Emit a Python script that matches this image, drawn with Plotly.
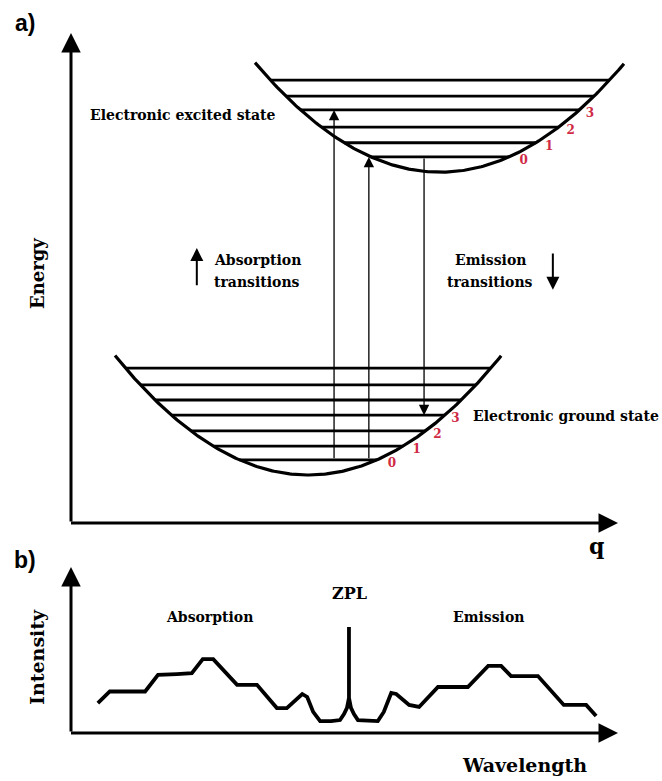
import numpy as np
import plotly.graph_objects as go

# ---------------- data ----------------
# Panel a: potential-energy curves (configuration coordinate q, energy E)
excited_min_q, excited_min_E = 7.42, 7.16
ground_min_q, ground_min_E = 4.77, 0.98
curvature = 0.1615
excited_q_span = [3.70, 11.12]
ground_q_span = [0.885, 8.65]

# vibrational level energies
excited_levels = [7.47, 7.76, 8.08, 8.43, 8.71, 9.04]
ground_levels = [1.29, 1.57, 1.88, 2.20, 2.51, 2.82, 3.16]
level_numbers = ["0", "1", "2", "3"]

# vertical transitions: (q, start energy, end energy)
absorption_q = [5.29, 5.99]
absorption_from = [1.29, 1.29]
absorption_to = [8.43, 7.47]
emission_q = [7.10]
emission_from = [7.47]
emission_to = [2.20]

# Panel b: spectrum (wavelength, intensity)
wavelength = [0.54, 0.78, 1.49, 1.75, 2.13, 2.43, 2.65, 2.86, 3.34, 3.74, 4.14,
              4.34, 4.65, 4.75, 4.87, 5.01, 5.23, 5.41, 5.49, 5.55, 5.59, 5.59,
              5.59, 5.63, 5.69, 5.77, 6.17, 6.29, 6.44, 6.54, 6.80, 7.00, 7.38,
              7.98, 8.39, 8.65, 8.85, 9.39, 9.91, 10.36, 10.56]
intensity = [0.18, 0.25, 0.25, 0.35, 0.355, 0.36, 0.445, 0.445, 0.29, 0.29, 0.15,
             0.15, 0.235, 0.217, 0.127, 0.072, 0.072, 0.078, 0.114, 0.151, 0.211, 0.639,
             0.211, 0.151, 0.114, 0.078, 0.072, 0.127, 0.241, 0.235, 0.169, 0.157, 0.277,
             0.277, 0.404, 0.404, 0.343, 0.343, 0.169, 0.169, 0.102]

# ---------------- layout geometry ----------------
W, H = 662, 781
PX_Q = 49.727          # pixels per q / wavelength unit
PX_E = 49.0            # pixels per energy unit
PX_I = 166.0           # pixels per intensity unit
ORIGIN_X = 71
A_ORIGIN_Y, A_SPLIT = 523, 553
B_ORIGIN_Y, B_SPLIT = 733, 555

x_range = [-ORIGIN_X / PX_Q, (W - ORIGIN_X) / PX_Q]
ya_range = [(A_ORIGIN_Y - A_SPLIT) / PX_E, A_ORIGIN_Y / PX_E]
yb_range = [(B_ORIGIN_Y - H) / PX_I, (B_ORIGIN_Y - B_SPLIT) / PX_I]

RED = "#d02a45"
SERIF = "DejaVu Serif"

fig = go.Figure()


def parabola(q0, E0, span):
    q = np.linspace(span[0], span[1], 200)
    return q, E0 + curvature * (q - q0) ** 2


def half_width(E, E0):
    return np.sqrt((E - E0) / curvature)


# potential curves
for q0, E0, span in [(excited_min_q, excited_min_E, excited_q_span),
                     (ground_min_q, ground_min_E, ground_q_span)]:
    q, E = parabola(q0, E0, span)
    fig.add_trace(go.Scatter(x=q, y=E, mode="lines", xaxis="x", yaxis="y",
                             line=dict(color="black", width=3.2), hoverinfo="skip"))

# vibrational levels
for q0, E0, levels in [(excited_min_q, excited_min_E, excited_levels),
                       (ground_min_q, ground_min_E, ground_levels)]:
    xs, ys = [], []
    for E in levels:
        hw = half_width(E, E0)
        xs += [q0 - hw, q0 + hw, None]
        ys += [E, E, None]
    fig.add_trace(go.Scatter(x=xs, y=ys, mode="lines", xaxis="x", yaxis="y",
                             line=dict(color="black", width=2.8), hoverinfo="skip"))

# level numbers beside the right branch
for q0, E0, levels in [(excited_min_q, excited_min_E, excited_levels),
                       (ground_min_q, ground_min_E, ground_levels)]:
    lq, lE = [], []
    for i, E in enumerate(levels[:len(level_numbers)]):
        lq.append(q0 + half_width(E, E0) + 0.30 - 0.03 * i)
        lE.append(E - 0.08)
    fig.add_trace(go.Scatter(x=lq, y=lE, mode="text",
                             text=[f"<b>{n}</b>" for n in level_numbers],
                             xaxis="x", yaxis="y", hoverinfo="skip",
                             textfont=dict(family=SERIF, size=12, color=RED)))

annotations = []


def arrow(x0, y0, x1, y1, xref, yref, width, size, head=2):
    annotations.append(dict(x=x1, y=y1, ax=x0, ay=y0, xref=xref, yref=yref,
                            axref=xref, ayref=yref, text="", showarrow=True,
                            arrowhead=head, arrowwidth=width, arrowsize=size,
                            arrowcolor="black", standoff=0, startstandoff=0))


# transitions
for q, e0, e1 in zip(absorption_q, absorption_from, absorption_to):
    arrow(q, e0, q, e1, "x", "y", 1.3, 1.6)
for q, e0, e1 in zip(emission_q, emission_from, emission_to):
    arrow(q, e0, q, e1, "x", "y", 1.3, 1.6)

# axes of panel a
arrow(0, 0, 0, 10.0, "x", "y", 3, 1.3)
arrow(-0.03, 0, 11.0, 0, "x", "y", 3, 1.3)
# axes of panel b
arrow(0, 0, 0, 1.0, "x2", "y2", 3, 1.3)
arrow(-0.03, 0, 11.0, 0, "x2", "y2", 3, 1.3)

# direction arrows beside the transition captions
arrow(2.53, 4.82, 2.53, 5.61, "x", "y", 2, 1.3)
arrow(9.69, 5.53, 9.69, 4.76, "x", "y", 2, 1.3)


def label(text, x, y, xref, yref, size, angle=0, family=SERIF, color="black",
          xanchor="center"):
    annotations.append(dict(x=x, y=y, xref=xref, yref=yref, text=text,
                            showarrow=False, textangle=angle, xanchor=xanchor,
                            yanchor="middle",
                            font=dict(family=family, size=size, color=color)))


label("<b>Electronic excited state</b>", 0.35, 8.33, "x", "y", 14, xanchor="left")
label("<b>Electronic ground state</b>", 8.04, 2.18, "x", "y", 14, xanchor="left")
label("<b>Absorption</b>", 2.84, 5.37, "x", "y", 14, xanchor="left")
label("<b>transitions</b>", 2.84, 4.92, "x", "y", 14, xanchor="left")
label("<b>Emission</b>", 8.43, 5.37, "x", "y", 14)
label("<b>transitions</b>", 8.43, 4.92, "x", "y", 14)
label("<b>Energy</b>", -0.684, 5.10, "x", "y", 18, angle=-90)
label("<b>q</b>", 10.56, -0.47, "x", "y", 22)

label("<b>Intensity</b>", -0.684, 0.458, "x2", "y2", 19, angle=-90)
label("<b>Absorption</b>", 2.78, 0.70, "x2", "y2", 14)
label("<b>ZPL</b>", 5.61, 0.843, "x2", "y2", 16)
label("<b>Emission</b>", 8.39, 0.70, "x2", "y2", 14)
label("<b>Wavelength</b>", 9.11, -0.19, "x2", "y2", 19)

# panel letters in paper coordinates
label("<b>a)</b>", 25 / W, 1 - 23 / H, "paper", "paper", 23, family="Liberation Sans")
label("<b>b)</b>", 25 / W, 1 - 560 / H, "paper", "paper", 23, family="Liberation Sans")

# spectrum
fig.add_trace(go.Scatter(x=wavelength, y=intensity, mode="lines",
                         xaxis="x2", yaxis="y2", hoverinfo="skip",
                         line=dict(color="black", width=3.8)))

axis_common = dict(showgrid=False, zeroline=False, showticklabels=False,
                   ticks="", showline=False, fixedrange=True)

fig.update_layout(
    width=W, height=H,
    margin=dict(l=0, r=0, t=0, b=0),
    paper_bgcolor="white", plot_bgcolor="white",
    showlegend=False,
    xaxis=dict(domain=[0, 1], range=x_range, **axis_common),
    yaxis=dict(domain=[1 - A_SPLIT / H, 1], range=ya_range, **axis_common),
    xaxis2=dict(domain=[0, 1], range=x_range, anchor="y2", **axis_common),
    yaxis2=dict(domain=[0, 1 - B_SPLIT / H], range=yb_range, anchor="x2",
                **axis_common),
    annotations=annotations,
)

fig.write_html("out.html", config={"displayModeBar": False})
